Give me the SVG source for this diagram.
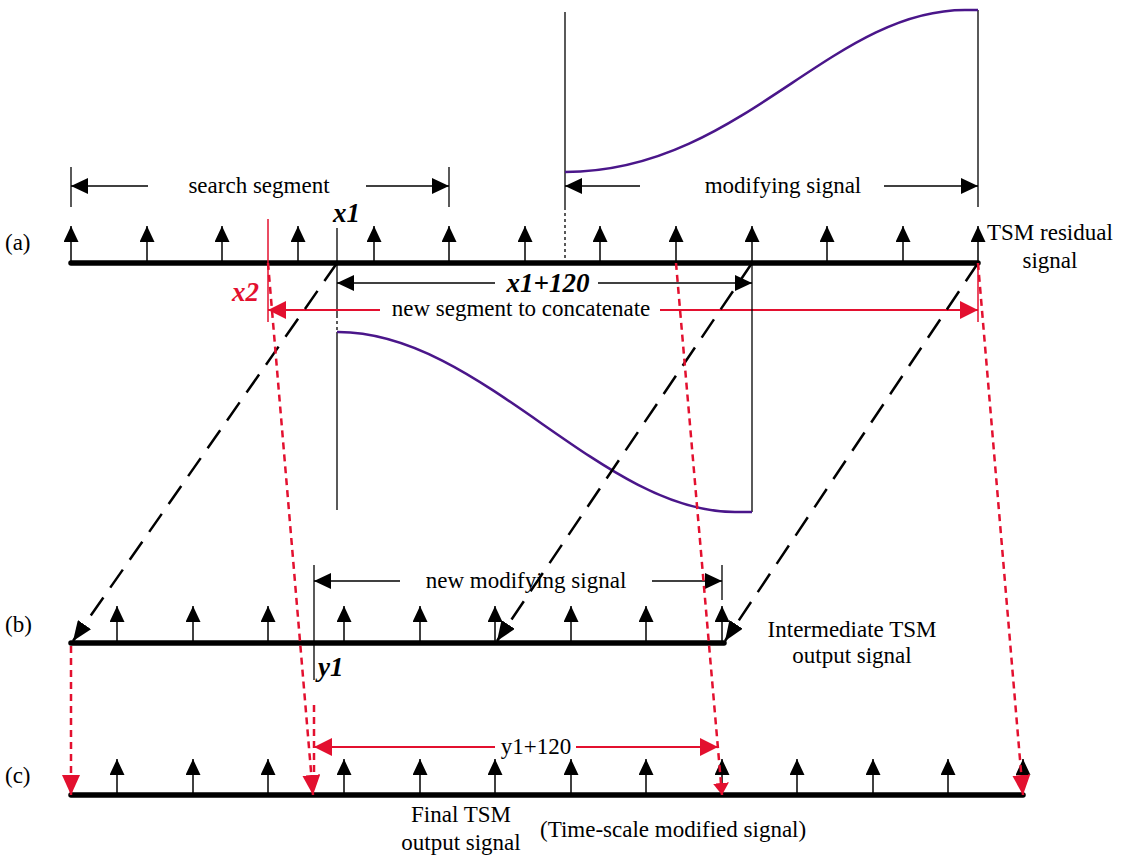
<svg xmlns="http://www.w3.org/2000/svg" width="1131" height="857" viewBox="0 0 1131 857">
<style>
text{font-family:"Liberation Serif","Times New Roman",serif;font-size:23px;fill:#000}
.bi{font-weight:bold;font-style:italic;font-size:27px}
.red{fill:#e3102f}
.axis{stroke:#000;stroke-width:5.5;stroke-linecap:round;fill:none}
.tick{stroke:#000;stroke-width:1.5;marker-end:url(#tk)}
.thin{stroke:#000;stroke-width:1.3;fill:none}
.dot{stroke:#000;stroke-width:1.3;stroke-dasharray:3 3;fill:none}
.rthin{stroke:#e3102f;stroke-width:1.5;fill:none}
.dim{stroke:#000;stroke-width:1.5;marker-end:url(#ah)}
.rdim{stroke:#e3102f;stroke-width:1.8;marker-end:url(#ahr)}
.bdash{stroke:#000;stroke-width:2.5;stroke-dasharray:22 12;fill:none;marker-end:url(#ahb)}
.rdash{stroke:#e3102f;stroke-width:2.5;stroke-dasharray:7 5;fill:none;marker-end:url(#ahr2)}
.rdashs{stroke:#e3102f;stroke-width:2.5;stroke-dasharray:7 5;fill:none;marker-end:url(#ahr3)}
.rdash0{stroke:#e3102f;stroke-width:2.5;stroke-dasharray:7 5;fill:none}
.curve{stroke:#4a168a;stroke-width:2.5;fill:none}
</style>
<defs>
<marker id="tk" markerUnits="userSpaceOnUse" markerWidth="16" markerHeight="15" refX="16" refY="7.5" orient="auto"><path d="M0,0 L16,7.5 L0,15 z" fill="#000"/></marker>
<marker id="ah" markerUnits="userSpaceOnUse" markerWidth="17" markerHeight="16" refX="17" refY="8" orient="auto"><path d="M0,0 L17,8 L0,16 z" fill="#000"/></marker>
<marker id="ahb" markerUnits="userSpaceOnUse" markerWidth="20" markerHeight="16" refX="20" refY="8" orient="auto"><path d="M0,0 L20,8 L0,16 z" fill="#000"/></marker>
<marker id="ahr" markerUnits="userSpaceOnUse" markerWidth="18" markerHeight="18" refX="18" refY="9" orient="auto"><path d="M0,0 L18,9 L0,18 z" fill="#e3102f"/></marker>
<marker id="ahr2" markerUnits="userSpaceOnUse" markerWidth="20" markerHeight="18" refX="20" refY="9" orient="auto"><path d="M0,0 L20,9 L0,18 z" fill="#e3102f"/></marker>
<marker id="ahr3" markerUnits="userSpaceOnUse" markerWidth="12" markerHeight="16" refX="12" refY="8" orient="auto"><path d="M0,0 L12,8 L0,16 z" fill="#e3102f"/></marker>
</defs>

<g id="row-a">
<text x="5" y="250">(a)</text>
<line class="axis" x1="71" y1="263" x2="978" y2="263"/>
<line class="tick" x1="71" y1="263" x2="71" y2="226"/>
<line class="tick" x1="147" y1="263" x2="147" y2="226"/>
<line class="tick" x1="222" y1="263" x2="222" y2="226"/>
<line class="tick" x1="298" y1="263" x2="298" y2="226"/>
<line class="tick" x1="374" y1="263" x2="374" y2="226"/>
<line class="tick" x1="449" y1="263" x2="449" y2="226"/>
<line class="tick" x1="525" y1="263" x2="525" y2="226"/>
<line class="tick" x1="600" y1="263" x2="600" y2="226"/>
<line class="tick" x1="676" y1="263" x2="676" y2="226"/>
<line class="tick" x1="752" y1="263" x2="752" y2="226"/>
<line class="tick" x1="827" y1="263" x2="827" y2="226"/>
<line class="tick" x1="903" y1="263" x2="903" y2="226"/>
<line class="tick" x1="978" y1="263" x2="978" y2="226"/>
<text x="987" y="240">TSM residual</text>
<text x="1050" y="268" text-anchor="middle">signal</text>
</g>

<g id="search-segment">
<line class="thin" x1="71" y1="167" x2="71" y2="207"/>
<line class="thin" x1="449" y1="167" x2="449" y2="207"/>
<line class="dim" x1="148" y1="186" x2="71" y2="186"/>
<line class="dim" x1="366" y1="186" x2="449" y2="186"/>
<text x="259" y="193" text-anchor="middle">search segment</text>
</g>

<g id="modifying-signal">
<line class="thin" x1="565" y1="12" x2="565" y2="207"/>
<line class="dot" x1="565" y1="207" x2="565" y2="262"/>
<line class="thin" x1="978" y1="10" x2="978" y2="207"/>
<path class="curve" d="M565,172 C740,172 830,10 965,10 L978,10"/>
<line class="dim" x1="640" y1="186" x2="565" y2="186"/>
<line class="dim" x1="884" y1="186" x2="978" y2="186"/>
<text x="783" y="193" text-anchor="middle">modifying signal</text>
</g>

<g id="x1-marker">
<line class="thin" x1="337" y1="228" x2="337" y2="315"/>
<line class="dot" x1="337" y1="315" x2="337" y2="332"/>
<text class="bi" x="333" y="222">x1</text>
</g>

<g id="x1-plus-120">
<line class="dim" x1="495" y1="283" x2="337" y2="283"/>
<line class="dim" x1="598" y1="283" x2="752" y2="283"/>
<text class="bi" x="548" y="292" text-anchor="middle">x1+120</text>
</g>

<g id="x2-marker">
<line class="rthin" x1="268" y1="219" x2="268" y2="322"/>
<line class="rthin" x1="978" y1="263" x2="978" y2="322"/>
<text class="bi red" x="232" y="301">x2</text>
</g>

<g id="new-segment">
<line class="rdim" x1="380" y1="310" x2="268" y2="310"/>
<line class="rdim" x1="660" y1="310" x2="978" y2="310"/>
<text x="521" y="316" text-anchor="middle">new segment to concatenate</text>
</g>

<g id="window-curve">
<line class="thin" x1="337" y1="332" x2="337" y2="510"/>
<line class="thin" x1="752" y1="263" x2="752" y2="512"/>
<path class="curve" d="M337,332 C480,331 600,512 735,512 L752,512"/>
</g>

<g id="row-b">
<text x="5" y="632">(b)</text>
<line class="axis" x1="71" y1="643" x2="724" y2="643"/>
<line class="tick" x1="117" y1="643" x2="117" y2="606"/>
<line class="tick" x1="193" y1="643" x2="193" y2="606"/>
<line class="tick" x1="268" y1="643" x2="268" y2="606"/>
<line class="tick" x1="344" y1="643" x2="344" y2="606"/>
<line class="tick" x1="420" y1="643" x2="420" y2="606"/>
<line class="tick" x1="495" y1="643" x2="495" y2="606"/>
<line class="tick" x1="571" y1="643" x2="571" y2="606"/>
<line class="tick" x1="646" y1="643" x2="646" y2="606"/>
<line class="tick" x1="722" y1="643" x2="722" y2="606"/>
<text x="852" y="637" text-anchor="middle">Intermediate TSM</text>
<text x="852" y="663" text-anchor="middle">output signal</text>
</g>

<g id="new-modifying-signal">
<line class="thin" x1="314" y1="565" x2="314" y2="680"/>
<line class="thin" x1="722" y1="565" x2="722" y2="600"/>
<line class="dim" x1="400" y1="581" x2="314" y2="581"/>
<line class="dim" x1="652" y1="581" x2="722" y2="581"/>
<text x="526" y="588" text-anchor="middle">new modifying signal</text>
<text class="bi" x="318" y="676">y1</text>
</g>

<g id="row-c">
<text x="5" y="783">(c)</text>
<line class="axis" x1="71" y1="795" x2="1023" y2="795"/>
<line class="tick" x1="117" y1="795" x2="117" y2="759"/>
<line class="tick" x1="193" y1="795" x2="193" y2="759"/>
<line class="tick" x1="268" y1="795" x2="268" y2="759"/>
<line class="tick" x1="344" y1="795" x2="344" y2="759"/>
<line class="tick" x1="420" y1="795" x2="420" y2="759"/>
<line class="tick" x1="495" y1="795" x2="495" y2="759"/>
<line class="tick" x1="571" y1="795" x2="571" y2="759"/>
<line class="tick" x1="646" y1="795" x2="646" y2="759"/>
<line class="tick" x1="722" y1="795" x2="722" y2="759"/>
<line class="tick" x1="797" y1="795" x2="797" y2="759"/>
<line class="tick" x1="873" y1="795" x2="873" y2="759"/>
<line class="tick" x1="948" y1="795" x2="948" y2="759"/>
<line class="tick" x1="1023" y1="795" x2="1023" y2="759"/>
<text x="461" y="822" text-anchor="middle">Final TSM</text>
<text x="461" y="850" text-anchor="middle">output signal</text>
<text x="540" y="837">(Time-scale modified signal)</text>
</g>

<g id="y1-plus-120">
<line class="rdash0" x1="314" y1="705" x2="314" y2="780"/>
<line class="rdim" x1="495" y1="747" x2="314" y2="747"/>
<line class="rdim" x1="576" y1="747" x2="718" y2="747"/>
<text x="536" y="754" text-anchor="middle">y1+120</text>
</g>

<g id="connectors">
<line class="bdash" x1="337" y1="263" x2="73" y2="641"/>
<line class="bdash" x1="752" y1="263" x2="497" y2="641"/>
<line class="bdash" x1="978" y1="263" x2="725" y2="641"/>
<line class="rdash" x1="71" y1="646" x2="71" y2="795"/>
<line class="rdash" x1="268" y1="263" x2="313" y2="795"/>
<line class="rdashs" x1="676" y1="263" x2="722" y2="795"/>
<line class="rdash" x1="978" y1="263" x2="1023" y2="795"/>
</g>
</svg>
